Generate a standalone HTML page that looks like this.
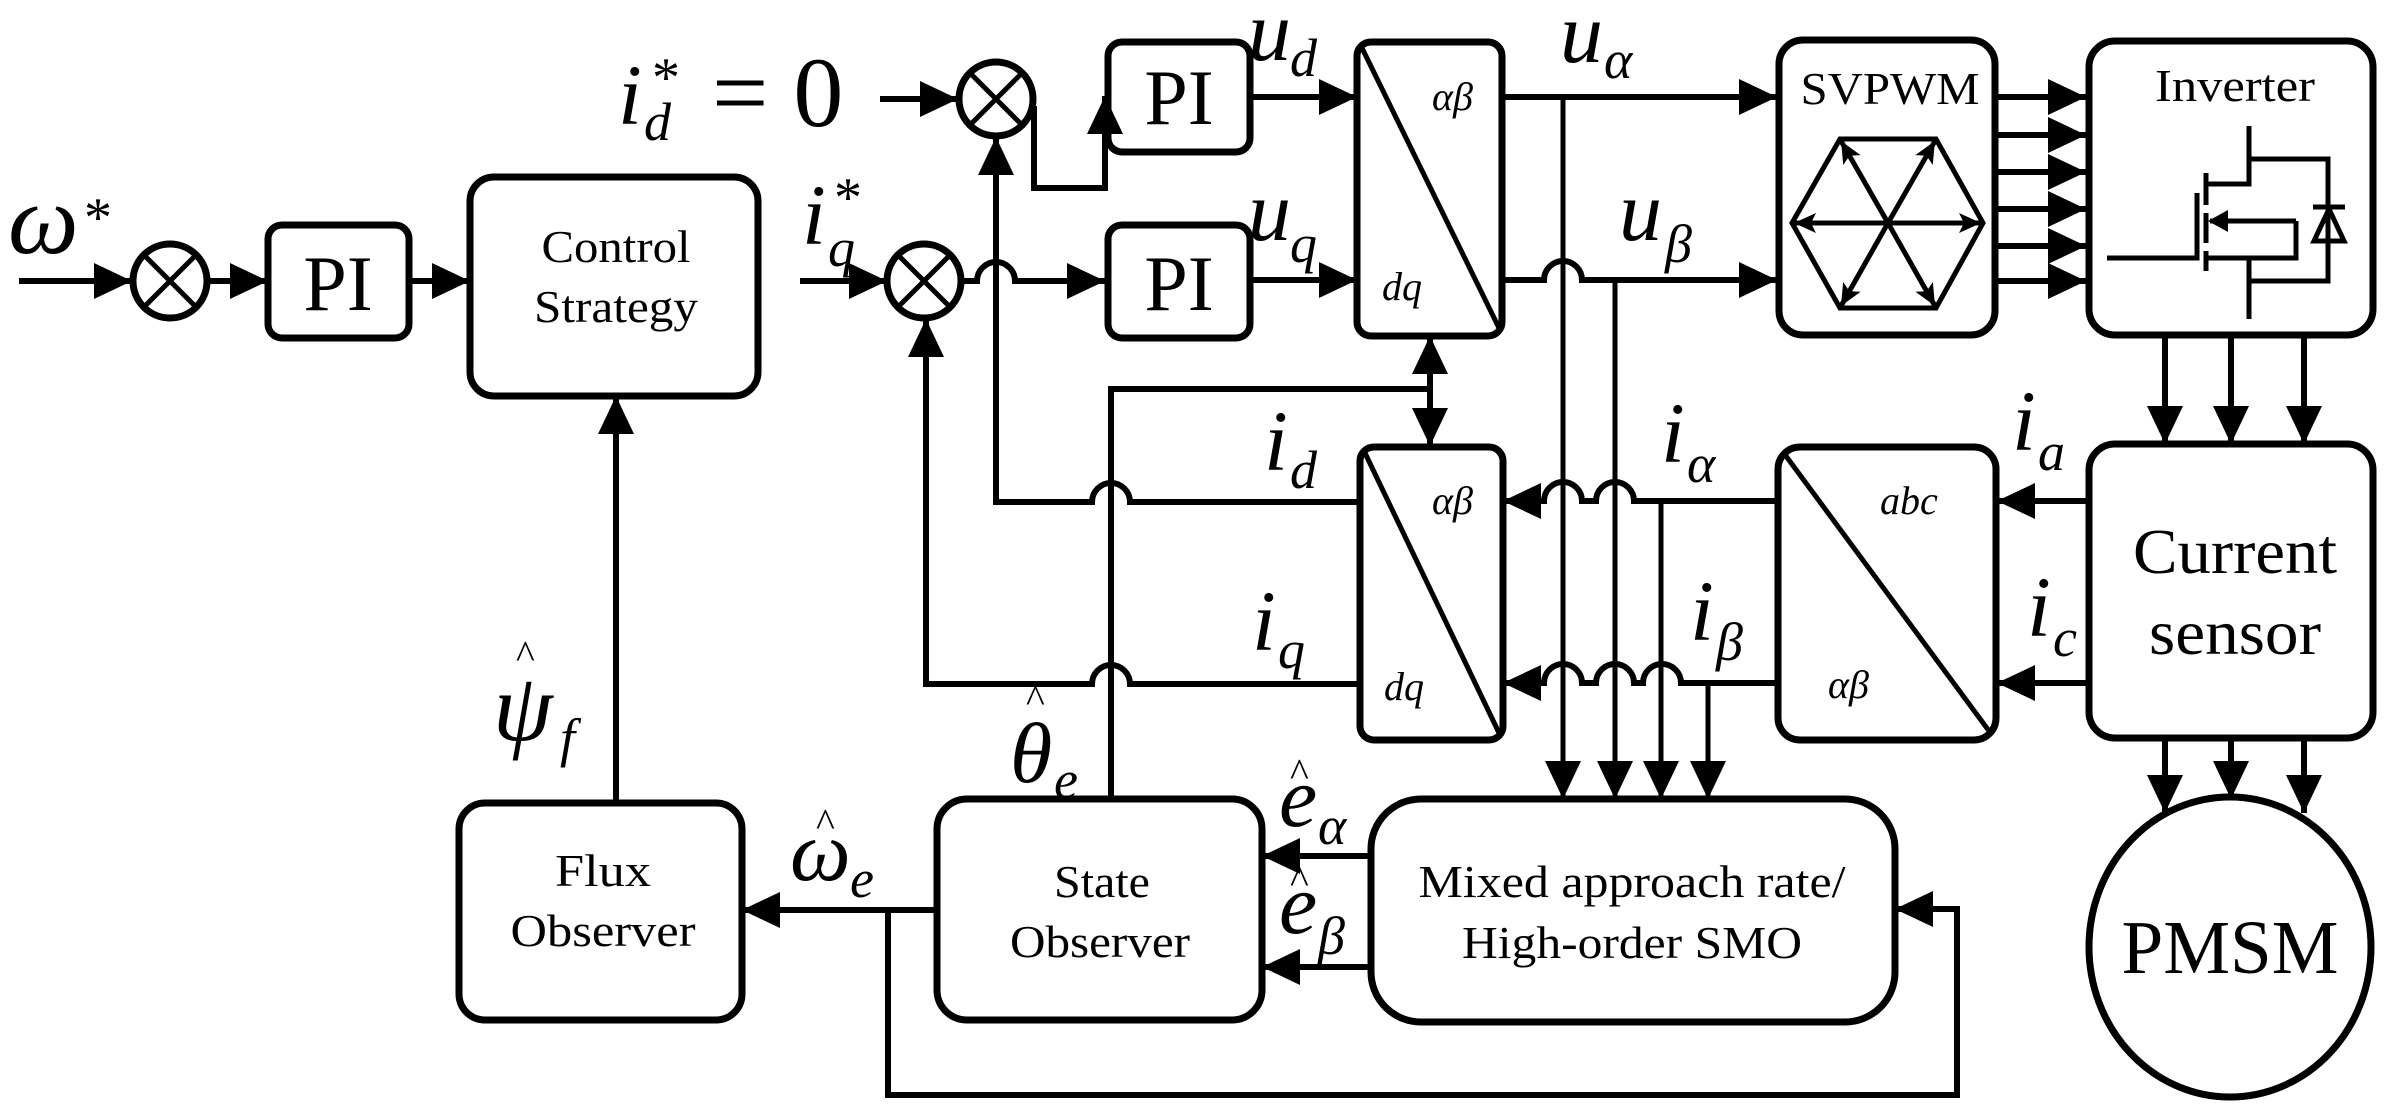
<!DOCTYPE html>
<html><head><meta charset="utf-8"><style>html,body{margin:0;padding:0;background:#fff}svg{display:block}</style></head>
<body>
<svg width="2394" height="1110" viewBox="0 0 2394 1110" xmlns="http://www.w3.org/2000/svg">
<defs>
<marker id="a" markerUnits="userSpaceOnUse" markerWidth="40" markerHeight="38" refX="38" refY="18" orient="auto"><path d="M0,0 L38,18 L0,36 z" fill="#000"/></marker>
<marker id="s" markerUnits="userSpaceOnUse" markerWidth="24" markerHeight="22" refX="22" refY="10" orient="auto"><path d="M0,0 L22,10 L0,20 L5,10 z" fill="#000"/></marker>
</defs>
<g fill="none" stroke="#000" stroke-width="7">
<rect x="268" y="225" width="141" height="113" rx="14"/>
<rect x="470" y="177" width="288" height="219" rx="24"/>
<rect x="459" y="803" width="283" height="217" rx="26"/>
<rect x="937" y="799" width="325" height="221" rx="30"/>
<rect x="1371" y="799" width="524" height="223" rx="50"/>
<rect x="1108" y="42" width="142" height="110" rx="14"/>
<rect x="1108" y="225" width="142" height="113" rx="14"/>
<rect x="1357" y="42" width="145" height="294" rx="14"/>
<rect x="1360" y="447" width="143" height="293" rx="14"/>
<rect x="1778" y="447" width="218" height="293" rx="22"/>
<rect x="1779" y="40" width="216" height="295" rx="24"/>
<rect x="2089" y="41" width="284" height="294" rx="26"/>
<rect x="2089" y="444" width="284" height="294" rx="26"/>
<ellipse cx="2230" cy="947" rx="141" ry="150"/>
<circle cx="170" cy="281" r="37"/><circle cx="996" cy="99" r="37"/><circle cx="924" cy="281" r="37"/>
</g>
<g fill="none" stroke="#000" stroke-width="5">
<path d="M144,255 L196,307 M196,255 L144,307"/>
<path d="M970,73 L1022,125 M1022,73 L970,125"/>
<path d="M898,255 L950,307 M950,255 L898,307"/>
<path d="M1362,48 L1500,330"/><path d="M1365,453 L1500,735"/><path d="M1783,452 L1992,735"/>
</g>
<g fill="none" stroke="#000" stroke-width="6" marker-end="url(#a)">
<path d="M19,281 H132"/>
<path d="M208,281 H268"/>
<path d="M409,281 H470"/>
<path d="M616,803 V396"/>
<path d="M937,910 H742"/>
<path d="M888,910 V1095 H1957 V909 H1895"/>
<path d="M1371,856 H1262"/><path d="M1371,967 H1262"/>
<path d="M1430,389 V336"/><path d="M1430,389 V446"/>
<path d="M880,99 H958"/>
<path d="M1034,106 V188 H1105 V96"/>
<path d="M1250,97 H1357"/>
<path d="M800,281 H887"/>
<path d="M961,281 H977 A19,19 0 0 1 1015,281 H1105"/>
<path d="M1250,280 H1357"/>
<path d="M1360,502 H1130 A19,19 0 0 0 1092,502 H996 V137"/>
<path d="M1360,684 H1130 A19,19 0 0 0 1092,684 H926 V319"/>
<path d="M1502,97 H1777"/>
<path d="M1502,280 H1544 A19,19 0 0 1 1582,280 H1777"/>
<path d="M1779,501 H1634 A19,19 0 0 0 1596,501 H1582 A19,19 0 0 0 1544,501 H1503"/>
<path d="M1779,683 H1681 A19,19 0 0 0 1643,683 H1634 A19,19 0 0 0 1596,683 H1582 A19,19 0 0 0 1544,683 H1503"/>
<path d="M2089,501 H1997"/><path d="M2089,683 H1997"/>
<path d="M1995,97 H2086"/><path d="M1995,135 H2086"/><path d="M1995,172 H2086"/><path d="M1995,209 H2086"/><path d="M1995,246 H2086"/><path d="M1995,281 H2086"/>
<path d="M2165,335 V444"/><path d="M2231,335 V444"/><path d="M2304,335 V444"/>
<path d="M2165,738 V813"/><path d="M2231,738 V799"/><path d="M2304,738 V813"/>
</g>
<g fill="none" stroke="#000" stroke-width="5" marker-end="url(#a)">
<path d="M1563,97 V799"/><path d="M1615,280 V799"/><path d="M1661,501 V799"/><path d="M1708,683 V799"/>
</g>
<path d="M1111,799 V389 H1430" fill="none" stroke="#000" stroke-width="6"/>
<g fill="none" stroke="#000" stroke-width="5">
<path d="M1840,139 L1936,139 L1983,223 L1936,308 L1840,308 L1792,223 Z"/>
</g>
<g fill="none" stroke="#000" stroke-width="5" marker-end="url(#s)">
<path d="M1888,223 L1794,223"/><path d="M1888,223 L1981,223"/>
<path d="M1888,223 L1841,141"/><path d="M1888,223 L1935,141"/>
<path d="M1888,223 L1841,306"/><path d="M1888,223 L1935,306"/>
</g>
<g fill="none" stroke="#000" stroke-width="5">
<path d="M2107,258 H2197 V193"/>
<path d="M2206,173 V205 M2206,213 V243 M2206,251 V271"/>
<path d="M2249,126 V184 H2206"/>
<path d="M2249,159 H2328 V281 H2249"/>
<path d="M2249,260 V319"/>
<path d="M2296,221 H2210 M2296,221 V258 H2206"/>
<path d="M2313,207 H2345"/>
<path d="M2329,209 L2314,241 H2344 Z"/>
</g>
<path d="M2208,221 L2228,210 L2228,232 Z" fill="#000"/>
<g font-family="Liberation Serif, serif" font-size="46" text-anchor="middle" fill="#000">
<text x="616" y="262" textLength="149" lengthAdjust="spacingAndGlyphs">Control</text>
<text x="616" y="322" textLength="164" lengthAdjust="spacingAndGlyphs">Strategy</text>
<text x="603" y="886" textLength="96" lengthAdjust="spacingAndGlyphs">Flux</text>
<text x="603" y="946" textLength="185" lengthAdjust="spacingAndGlyphs">Observer</text>
<text x="1102" y="897" textLength="96" lengthAdjust="spacingAndGlyphs">State</text>
<text x="1100" y="957" textLength="180" lengthAdjust="spacingAndGlyphs">Observer</text>
<text x="1632" y="897" textLength="427" lengthAdjust="spacingAndGlyphs">Mixed approach rate/</text>
<text x="1632" y="958" textLength="340" lengthAdjust="spacingAndGlyphs">High-order SMO</text>
<text x="1890" y="104" textLength="179" lengthAdjust="spacingAndGlyphs">SVPWM</text>
<text x="2235" y="101" textLength="160" lengthAdjust="spacingAndGlyphs">Inverter</text>
<text x="2235" y="573" font-size="64" textLength="204" lengthAdjust="spacingAndGlyphs">Current</text>
<text x="2235" y="654" font-size="64" textLength="172" lengthAdjust="spacingAndGlyphs">sensor</text>
<text x="2230" y="973" font-size="76" textLength="217" lengthAdjust="spacingAndGlyphs">PMSM</text>
<text x="338" y="310" font-size="78">PI</text>
<text x="1179" y="124" font-size="78">PI</text>
<text x="1179" y="310" font-size="78">PI</text>
</g>
<g font-family="Liberation Serif, serif" font-style="italic" font-size="40" fill="#000">
<text x="1432" y="110">αβ</text><text x="1382" y="300">dq</text>
<text x="1432" y="514">αβ</text><text x="1384" y="700">dq</text>
<text x="1880" y="514">abc</text><text x="1828" y="698">αβ</text>
</g>
<g font-family="Liberation Serif, serif" font-style="italic" font-size="86" fill="#000">
<text x="8" y="253" font-size="100">ω</text><text x="84" y="236" font-size="56" font-style="normal">*</text>
<text x="618" y="124">i</text><text x="644" y="140" font-size="54">d</text><text x="652" y="96" font-size="56" font-style="normal">*</text>
<text x="712" y="126" font-style="normal" font-size="100">= 0</text>
<text x="802" y="244">i</text><text x="828" y="266" font-size="54">q</text><text x="834" y="216" font-size="56" font-style="normal">*</text>
<text x="1248" y="60">u</text><text x="1290" y="76" font-size="54">d</text>
<text x="1248" y="240">u</text><text x="1290" y="262" font-size="54">q</text>
<text x="1560" y="62">u</text><text x="1604" y="78" font-size="54">α</text>
<text x="1619" y="240">u</text><text x="1665" y="262" font-size="54">β</text>
<text x="1264" y="470">i</text><text x="1290" y="488" font-size="54">d</text>
<text x="1252" y="650">i</text><text x="1278" y="668" font-size="54">q</text>
<text x="1661" y="462">i</text><text x="1687" y="482" font-size="54">α</text>
<text x="1690" y="640">i</text><text x="1716" y="660" font-size="54">β</text>
<text x="2012" y="450">i</text><text x="2038" y="470" font-size="54">a</text>
<text x="2027" y="636">i</text><text x="2053" y="656" font-size="54">c</text>
<text x="1010" y="782">θ</text><text x="1054" y="798" font-size="54">e</text><text x="1026" y="712" font-size="40" font-style="normal">^</text>
<text x="790" y="880">ω</text><text x="850" y="897" font-size="54">e</text><text x="816" y="836" font-size="40" font-style="normal">^</text>
<text x="493" y="740" font-size="96">ψ</text><text x="560" y="756" font-size="54">f</text><text x="516" y="668" font-size="40" font-style="normal">^</text>
<text x="1279" y="826">e</text><text x="1318" y="844" font-size="54">α</text><text x="1290" y="786" font-size="40" font-style="normal">^</text>
<text x="1279" y="933">e</text><text x="1318" y="954" font-size="54">β</text><text x="1290" y="893" font-size="40" font-style="normal">^</text>
</g>
</svg>
</body></html>
